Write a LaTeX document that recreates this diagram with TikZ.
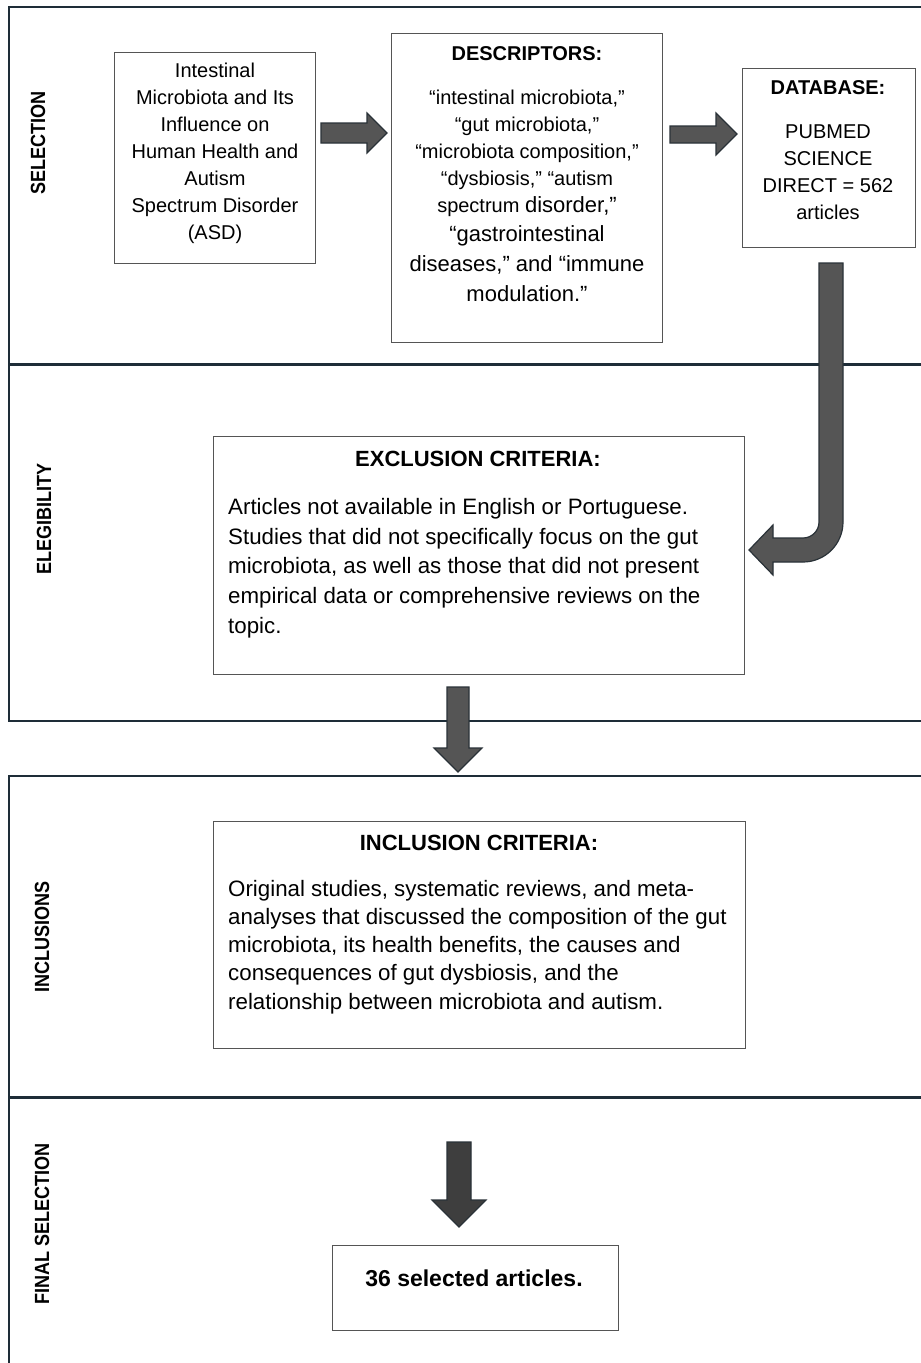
\documentclass[tikz,border=0pt]{standalone}
\usepackage{fontspec}
\setmainfont{Liberation Sans}
\definecolor{framecol}{HTML}{1E2D38}
\definecolor{boxline}{HTML}{555555}
\definecolor{arrowfill}{HTML}{555555}
\definecolor{arrowdark}{HTML}{3E3E3E}
\definecolor{arrowline}{HTML}{2A3238}
\begin{document}
\begin{tikzpicture}[x=1pt,y=-1pt,
  frameline/.style={draw=framecol, line width=2.2pt},
  sepline/.style={draw=framecol, line width=3pt},
  stagebox/.style={draw=boxline, line width=1.3pt, fill=white, anchor=north west, inner sep=0pt},
  blockarrow/.style={fill=arrowfill, draw=arrowline, line width=1.2pt, line join=miter},
  lab/.style={rotate=90, xscale=0.88, font=\fontsize{20.5}{22}\selectfont\bfseries},
  txt/.style={inner sep=0pt, font=\fontsize{20}{27}\selectfont},
  ttl/.style={inner sep=0pt, font=\fontsize{20}{24}\selectfont\bfseries},
]
\useasboundingbox (0,0) rectangle (921,1363);
\fill[white] (0,0) rectangle (921,1363);

% section frames
\draw[frameline] (921,7) -- (9,7) -- (9,364);
\draw[sepline] (9,364) -- (921,364);
\draw[frameline] (9,364) -- (9,721) -- (921,721);
\draw[frameline] (921,776) -- (9,776) -- (9,1097);
\draw[sepline] (9,1097) -- (921,1097);
\draw[frameline] (9,1097) -- (9,1363);

% section labels
\node[lab] (lsel) at (38,143) {SELECTION};
\node[lab] (lelig) at (44,519) {ELEGIBILITY};
\node[lab] (lincl) at (42,937) {INCLUSIONS};
\node[lab] (lfin) at (42,1224) {FINAL SELECTION};

% boxes
\node[stagebox, minimum width=201pt, minimum height=211pt] (topic) at (114,52) {};
\node[stagebox, minimum width=271pt, minimum height=309pt] (desc) at (391,33) {};
\node[stagebox, minimum width=173pt, minimum height=179pt] (db) at (742,68) {};
\node[stagebox, minimum width=531pt, minimum height=238pt] (excl) at (213,436) {};
\node[stagebox, minimum width=532pt, minimum height=227pt] (incl) at (213,821) {};
\node[stagebox, minimum width=286pt, minimum height=85pt] (final) at (332,1245) {};

% texts
\node[txt, align=center] (topictext) at (215,153) {Intestinal\\Microbiota and Its\\Influence on\\Human Health and\\Autism\\Spectrum Disorder\\(ASD)};

\node[ttl] (desctitle) at (527,54) {DESCRIPTORS:};
\node[txt, align=center] (descA) at (527,153) {“intestinal microbiota,”\\“gut microbiota,”\\“microbiota composition,”\\“dysbiosis,” “autism\\spectrum {\fontsize{22}{27}\selectfont disorder,”}};
\node[txt, align=center, font=\fontsize{22}{30}\selectfont] (descB) at (527,264) {“gastrointestinal\\diseases,” and “immune\\modulation.”};

\node[ttl] (dbtitle) at (828,88) {DATABASE:};
\node[txt, align=center] (dbtext) at (828,172) {PUBMED\\SCIENCE\\DIRECT = 562\\articles};

\node[ttl, font=\fontsize{22}{26}\selectfont\bfseries] (excltitle) at (478,459) {EXCLUSION CRITERIA:};
\node[txt, align=left, anchor=west, font=\fontsize{22.3}{29.75}\selectfont] (excltext) at (228,568) {Articles not available in English or Portuguese.\\Studies that did not specifically focus on the gut\\microbiota, as well as those that did not present\\empirical data or comprehensive reviews on the\\topic.};

\node[ttl, font=\fontsize{22}{26}\selectfont\bfseries] (incltitle) at (479,843) {INCLUSION CRITERIA:};
\node[txt, align=left, anchor=west, font=\fontsize{22.3}{28.2}\selectfont] (incltext) at (228,947) {Original studies, systematic reviews, and meta-\\analyses that discussed the composition of the gut\\microbiota, its health benefits, the causes and\\consequences of gut dysbiosis, and the\\relationship between microbiota and autism.};

\node[ttl, font=\fontsize{23}{26}\selectfont\bfseries] (finaltext) at (474,1278) {36 selected articles.};

% block arrows
\draw[blockarrow] (321,123) -- (367,123) -- (367,113) -- (387,133) -- (367,153) -- (367,143) -- (321,143) -- cycle;
\draw[blockarrow] (670,126) -- (716,126) -- (716,113) -- (737,134) -- (716,155) -- (716,143) -- (670,143) -- cycle;
\draw[blockarrow] (819,263) -- (843,263) -- (843,522) arc (0:90:40) -- (773,562) -- (773,575) -- (749,550) -- (773,525) -- (773,538) -- (803,538) arc (90:0:16) -- cycle;
\draw[blockarrow] (447,687) -- (469,687) -- (469,748) -- (482,748) -- (458,772) -- (434,748) -- (447,748) -- cycle;
\draw[blockarrow, fill=arrowdark] (447,1142) -- (471,1142) -- (471,1200) -- (486,1200) -- (459,1227) -- (432,1200) -- (447,1200) -- cycle;
\end{tikzpicture}
\end{document}
